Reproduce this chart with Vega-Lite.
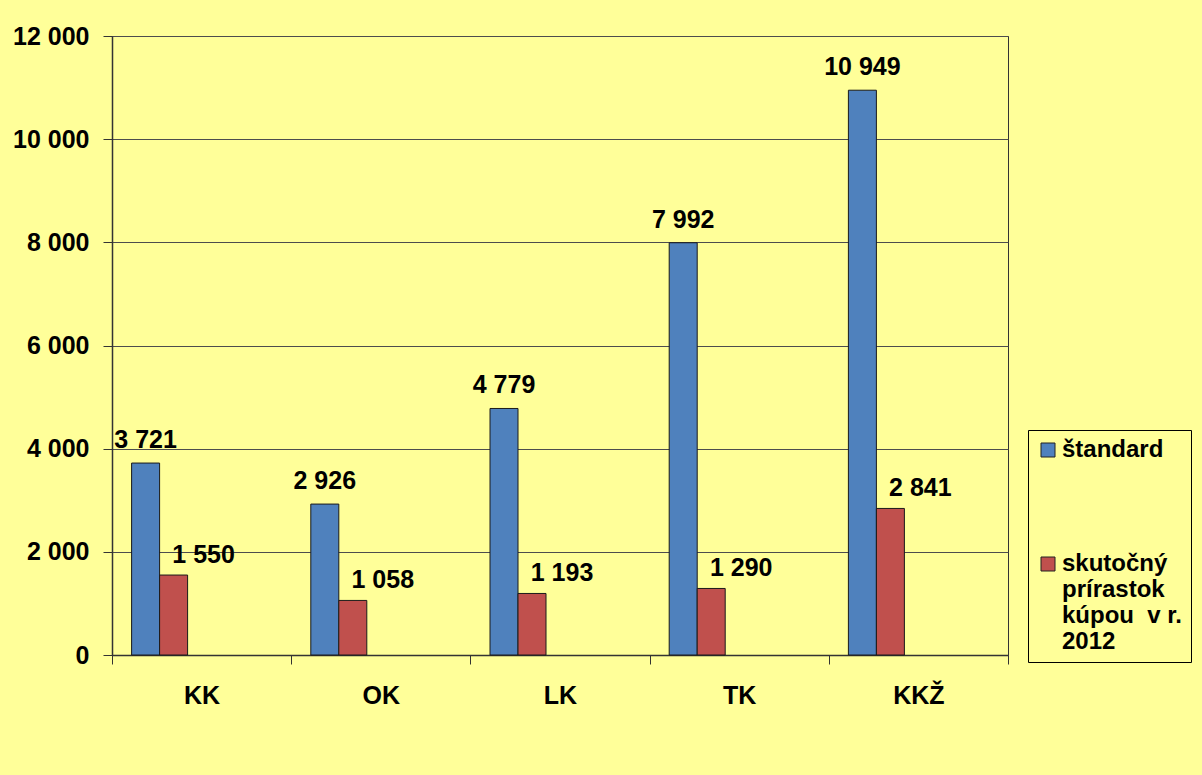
{
  "$schema": "https://vega.github.io/schema/vega-lite/v6.json",
  "width": 896,
  "height": 619,
  "autosize": {"type": "none"},
  "padding": {"left": 112, "top": 36, "right": 194, "bottom": 120},
  "background": "#FFFF99",
  "config": {
    "locale": {"number": {"decimal": ",", "thousands": " ", "grouping": [3], "currency": ["", " €"]}},
    "view": {"stroke": "#333333", "strokeWidth": 1},
    "font": "Liberation Sans",
    "axis": {
      "labelFont": "Liberation Sans",
      "labelFontWeight": "bold",
      "labelFontSize": 25,
      "labelColor": "#000000",
      "domainColor": "#333333",
      "tickColor": "#333333",
      "title": null
    }
  },
  "data": {
    "values": [
      {"kraj": "KK", "rad": "štandard", "hodnota": 3721},
      {"kraj": "KK", "rad": "skutočný prírastok kúpou v r. 2012", "hodnota": 1550},
      {"kraj": "OK", "rad": "štandard", "hodnota": 2926},
      {"kraj": "OK", "rad": "skutočný prírastok kúpou v r. 2012", "hodnota": 1058},
      {"kraj": "LK", "rad": "štandard", "hodnota": 4779},
      {"kraj": "LK", "rad": "skutočný prírastok kúpou v r. 2012", "hodnota": 1193},
      {"kraj": "TK", "rad": "štandard", "hodnota": 7992},
      {"kraj": "TK", "rad": "skutočný prírastok kúpou v r. 2012", "hodnota": 1290},
      {"kraj": "KKŽ", "rad": "štandard", "hodnota": 10949},
      {"kraj": "KKŽ", "rad": "skutočný prírastok kúpou v r. 2012", "hodnota": 2841}
    ]
  },
  "encoding": {
    "x": {
      "field": "kraj",
      "type": "nominal",
      "sort": ["KK", "OK", "LK", "TK", "KKŽ"],
      "scale": {"paddingInner": 0, "paddingOuter": 0},
      "axis": {"labelAngle": 0, "tickBand": "extent", "tickSize": 9, "labelPadding": 19, "grid": false, "domainWidth": 1.5}
    },
    "xOffset": {
      "field": "rad",
      "type": "nominal",
      "scale": {
        "domain": ["štandard", "skutočný prírastok kúpou v r. 2012", "r3", "r4", "r5"],
        "paddingInner": 0,
        "paddingOuter": 0.7
      }
    },
    "y": {
      "field": "hodnota",
      "type": "quantitative",
      "scale": {"domain": [0, 12000], "nice": false},
      "axis": {
        "values": [0, 2000, 4000, 6000, 8000, 10000, 12000],
        "format": ",d",
        "tickSize": 9,
        "labelPadding": 14,
        "grid": true,
        "gridColor": "#4d4d4d",
        "gridWidth": 1,
        "domainWidth": 1.5
      }
    }
  },
  "layer": [
    {
      "mark": {"type": "bar", "stroke": "#1a1a1a", "strokeWidth": 1},
      "encoding": {
        "color": {
          "field": "rad",
          "type": "nominal",
          "scale": {
            "domain": ["štandard", "skutočný prírastok kúpou v r. 2012"],
            "range": ["#4F81BD", "#C0504D"]
          },
          "legend": {
            "orient": "none",
            "legendX": 916,
            "legendY": 394,
            "title": null,
            "labelFont": "Liberation Sans",
            "labelFontSize": 24,
            "labelFontWeight": "bold",
            "labelColor": "#000000",
            "labelLimit": 300,
            "labelOffset": 2,
            "labelBaseline": "middle",
            "labelExpr": "datum.label == 'štandard' ? 'štandard' : ['skutočný', 'prírastok', 'kúpou\u00a0 v r.', '2012']",
            "symbolType": "square",
            "symbolSize": 196,
            "symbolStrokeColor": "#222222",
            "symbolStrokeWidth": 1,
            "symbolOpacity": 1,
            "strokeColor": "#000000",
            "fillColor": "#FFFF99",
            "padding": 8,
            "rowPadding": 90
          }
        }
      }
    },
    {
      "transform": [{"filter": "datum.rad == 'štandard'"}],
      "mark": {"type": "text", "fontSize": 25, "fontWeight": "bold", "font": "Liberation Sans", "color": "#000000", "baseline": "alphabetic", "dy": -15},
      "encoding": {"text": {"field": "hodnota", "type": "quantitative", "format": ",d"}}
    },
    {
      "transform": [{"filter": "datum.rad != 'štandard'"}],
      "mark": {"type": "text", "fontSize": 25, "fontWeight": "bold", "font": "Liberation Sans", "color": "#000000", "baseline": "alphabetic", "dx": 30, "dy": -12},
      "encoding": {"text": {"field": "hodnota", "type": "quantitative", "format": ",d"}}
    }
  ]
}
